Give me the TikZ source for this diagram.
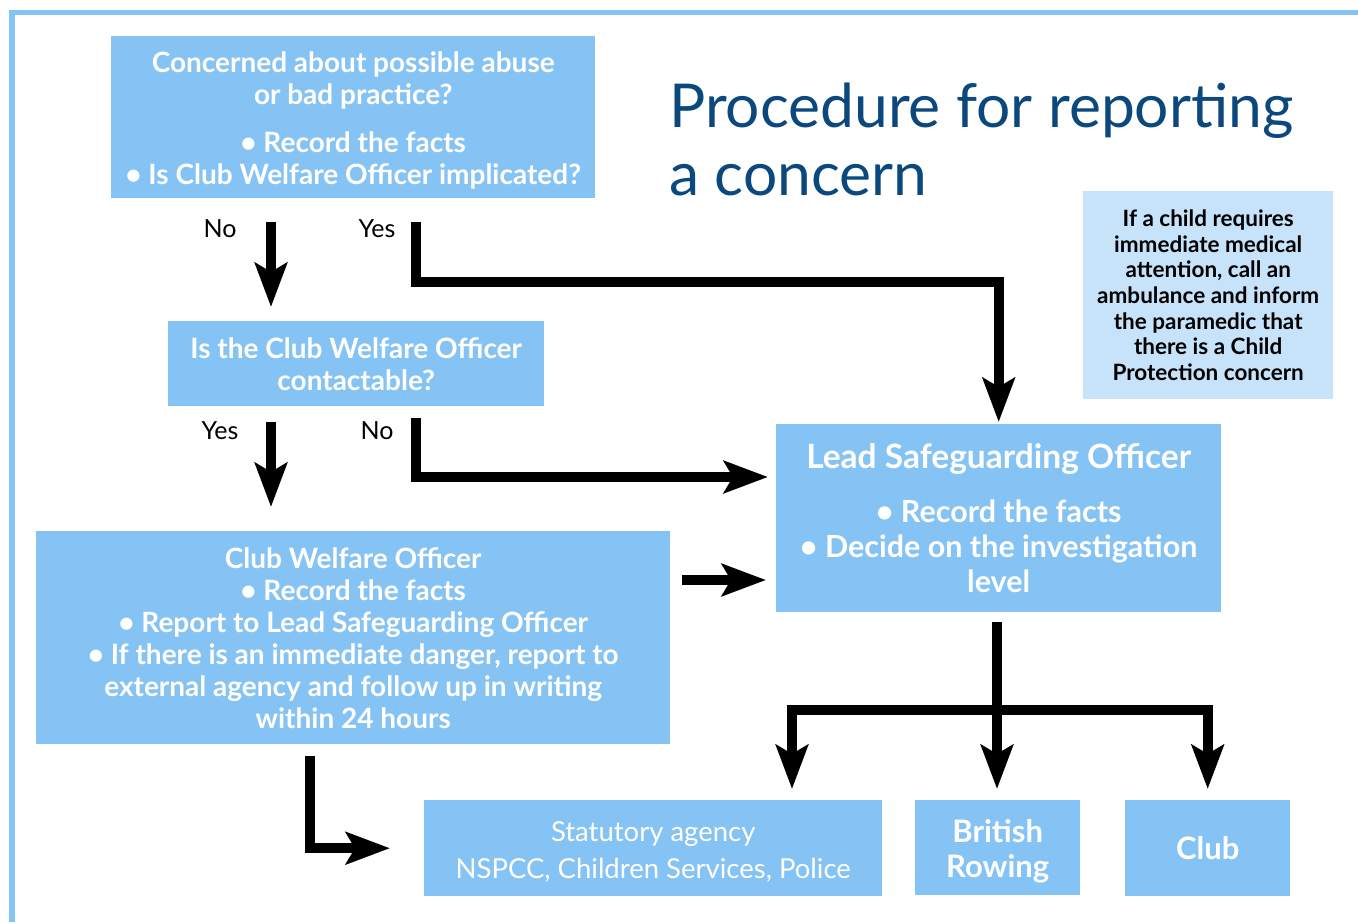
\documentclass[tikz,border=0pt]{standalone}
\usepackage{fontspec}
\setmainfont{Lato}
\usetikzlibrary{arrows.meta}

\definecolor{boxblue}{RGB}{134,195,245}
\definecolor{noteblue}{RGB}{198,227,250}
\definecolor{titleblue}{RGB}{11,72,125}

\begin{document}
\begin{tikzpicture}[x=1pt,y=-1pt,
  box/.style={fill=boxblue,text=white,align=center,anchor=north west,inner sep=0pt,
              font=\bfseries\fontsize{28}{32}\selectfont},
  bigbox/.style={box,font=\bfseries\fontsize{30.5}{35}\selectfont},
  note/.style={fill=noteblue,text=black,align=center,anchor=north west,inner sep=0pt,
              font=\bfseries\fontsize{22.5}{25.7}\selectfont},
  lbl/.style={font=\fontsize{25}{30}\selectfont},
  ttl/.style={text=titleblue,anchor=base west,inner sep=0pt,font=\fontsize{60.5}{68}\selectfont},
  flow/.style={line width=10pt,line join=miter,-{Stealth[length=44pt,width=32pt,inset=9pt]}}]
\def\gap{16pt}
\def\bul{\textbullet\ }
\def\lift#1{\rule{0pt}{#1pt}}
  \useasboundingbox (0,0) rectangle (1358,922);
  % frame
  \draw[boxblue,line width=5.5pt,line join=miter] (12,922) -- (12,12.5) -- (1358,12.5);

  % title and note
  \node[ttl] (ttla) at (669,127) {Procedure for reporting};
  \node[ttl] (ttlb) at (669,195) {a concern};
  \node[note,minimum width=250pt,minimum height=208pt] (med) at (1083,191)
    {If a child requires\\immediate medical\\attention, call an\\ambulance and inform\\the paramedic that\\there is a Child\\Protection concern};

  % boxes
  \node[box,minimum width=484pt,minimum height=162pt] (concern) at (111,36)
    {\lift{27}Concerned about possible abuse\\or bad practice?\\[\gap]%
     \bul Record the facts\\\bul Is Club Welfare Officer implicated?};
  \node[box,minimum width=376pt,minimum height=85pt] (contact) at (168,321)
    {Is the Club Welfare Officer\\contactable?};
  \node[box,minimum width=634pt,minimum height=213pt] (cwo) at (36,531)
    {Club Welfare Officer\\\bul Record the facts\\\bul Report to Lead Safeguarding Officer\\%
     \bul If there is an immediate danger, report to\\external agency and follow up in writing\\within 24 hours};
  \node[bigbox,minimum width=445pt,minimum height=188pt] (lso) at (776,424)
    {{\fontsize{33.5}{35}\selectfont Lead Safeguarding Officer}\\[19pt]%
     \bul Record the facts\\\bul Decide on the investigation\\level};
  \node[bigbox,font=\fontsize{27.5}{37}\selectfont,minimum width=458pt,minimum height=96pt] (stat) at (424,800)
    {\lift{28}Statutory agency\\NSPCC, Children Services, Police};
  \node[bigbox,font=\bfseries\fontsize{31}{35}\selectfont,minimum width=165pt,minimum height=95pt] (rowing) at (915,800)
    {\lift{31}British\\Rowing};
  \node[bigbox,font=\bfseries\fontsize{31}{35}\selectfont,minimum width=165pt,minimum height=96pt] (club) at (1125,800)
    {Club};

  % answers
  \node[lbl] (noa)  at (220,229) {No};
  \node[lbl] (yesa) at (377,229) {Yes};
  \node[lbl] (yesb) at (220,431) {Yes};
  \node[lbl] (nob)  at (377,431) {No};

  % connectors
  \coordinate (noastart)  at (271,222);
  \coordinate (yesastart) at (416,222);
  \coordinate (yesaturn)  at (416,282);
  \coordinate (yesbstart) at (271,422);
  \coordinate (nobstart)  at (416,418);
  \coordinate (nobturn)   at (416,477);
  \coordinate (cwoout)    at (682,580);
  \coordinate (cwodown)   at (310,756);
  \coordinate (split)     at (997,710);
  \coordinate (statin)    at (792,800);

  \draw[flow,shorten >=14pt] (noastart) -- (noastart |- contact.north);
  \draw[flow,shorten >=2pt] (yesastart) -- (yesaturn) -| (lso.north);
  \draw[flow,shorten >=24pt] (yesbstart) -- (yesbstart |- cwo.north);
  \draw[flow,shorten >=8pt] (nobstart) -- (nobturn) -- (nobturn -| lso.west);
  \draw[flow,shorten >=10pt] (cwoout) -- (cwoout -| lso.west);
  \draw[flow,shorten >=34pt] (cwodown) |- (stat.west);
  \draw[flow,shorten <=10pt,shorten >=11pt] (lso.south -| split) -- (split |- rowing.north);
  \draw[flow,shorten >=11pt] (split) -| (statin);
  \draw[flow,shorten >=11pt] (split) -| (club.north);
\end{tikzpicture}
\end{document}
